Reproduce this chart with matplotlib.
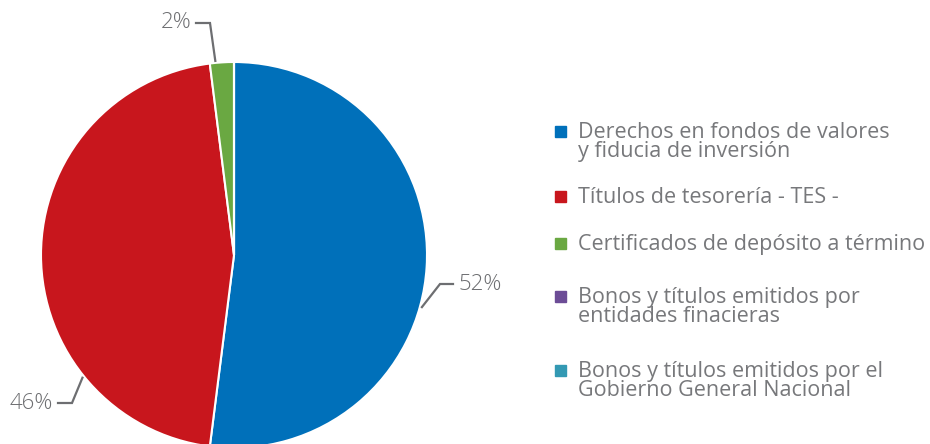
import numpy as np
import matplotlib
matplotlib.use('Agg')
import matplotlib.pyplot as plt
from matplotlib.patches import Rectangle

# data
categories = ['Derechos en fondos de valores\ny fiducia de inversión',
              'Títulos de tesorería - TES -',
              'Certificados de depósito a término',
              'Bonos y títulos emitidos por\nentidades finacieras',
              'Bonos y títulos emitidos por el\nGobierno General Nacional']
values = [52, 46, 2, 0, 0]
colors = ['#0070BA', '#C8161D', '#6AA842', '#6C4C96', '#3399B3']

plt.rcParams['font.family'] = ['Open Sans', 'DejaVu Sans']
grey = '#6D6E71'

fig = plt.figure(figsize=(9.3, 4.44), dpi=100)
ax = fig.add_axes([0, 0, 1, 1])

cx, cy, r = 234, 189, 193
wedges, _ = ax.pie(values, colors=colors, startangle=90, counterclock=False,
                   center=(cx, cy), radius=r,
                   wedgeprops=dict(edgecolor='white', linewidth=1.5))

# leader lines: angle of start on rim, elbow, end, side of text
leaders = {0: (-15.5, (440, 160), (453, 160), 'left'),
           1: (-141, (72, 41), (58, 41), 'right'),
           2: (95.5, (210, 421), (196, 421), 'right')}
for i, (ang, elbow, end, side) in leaders.items():
    a = np.deg2rad(ang)
    sx, sy = cx + (r + 2) * np.cos(a), cy + (r + 2) * np.sin(a)
    ax.plot([sx, elbow[0], end[0]], [sy, elbow[1], end[1]], color=grey, lw=1.6,
            solid_joinstyle='miter')
    tx = end[0] + 5 if side == 'left' else end[0] - 5
    ax.text(tx, end[1], f'{values[i]}%', ha=side, va='center', fontsize=16,
            color=grey, fontweight=300)

# legend
leg_y = [312, 247, 200, 147, 73]
for c, lab, y in zip(colors, categories, leg_y):
    ax.add_patch(Rectangle((555, y - 5), 11, 11, color=c))
    ax.text(578, y + 10, lab, ha='left', va='top', fontsize=15.5, color='#77787B',
            linespacing=0.86)

ax.set_xlim(0, 930)
ax.set_ylim(0, 444)
ax.set_aspect('equal')
ax.axis('off')

fig.savefig('out.png', dpi=100)
